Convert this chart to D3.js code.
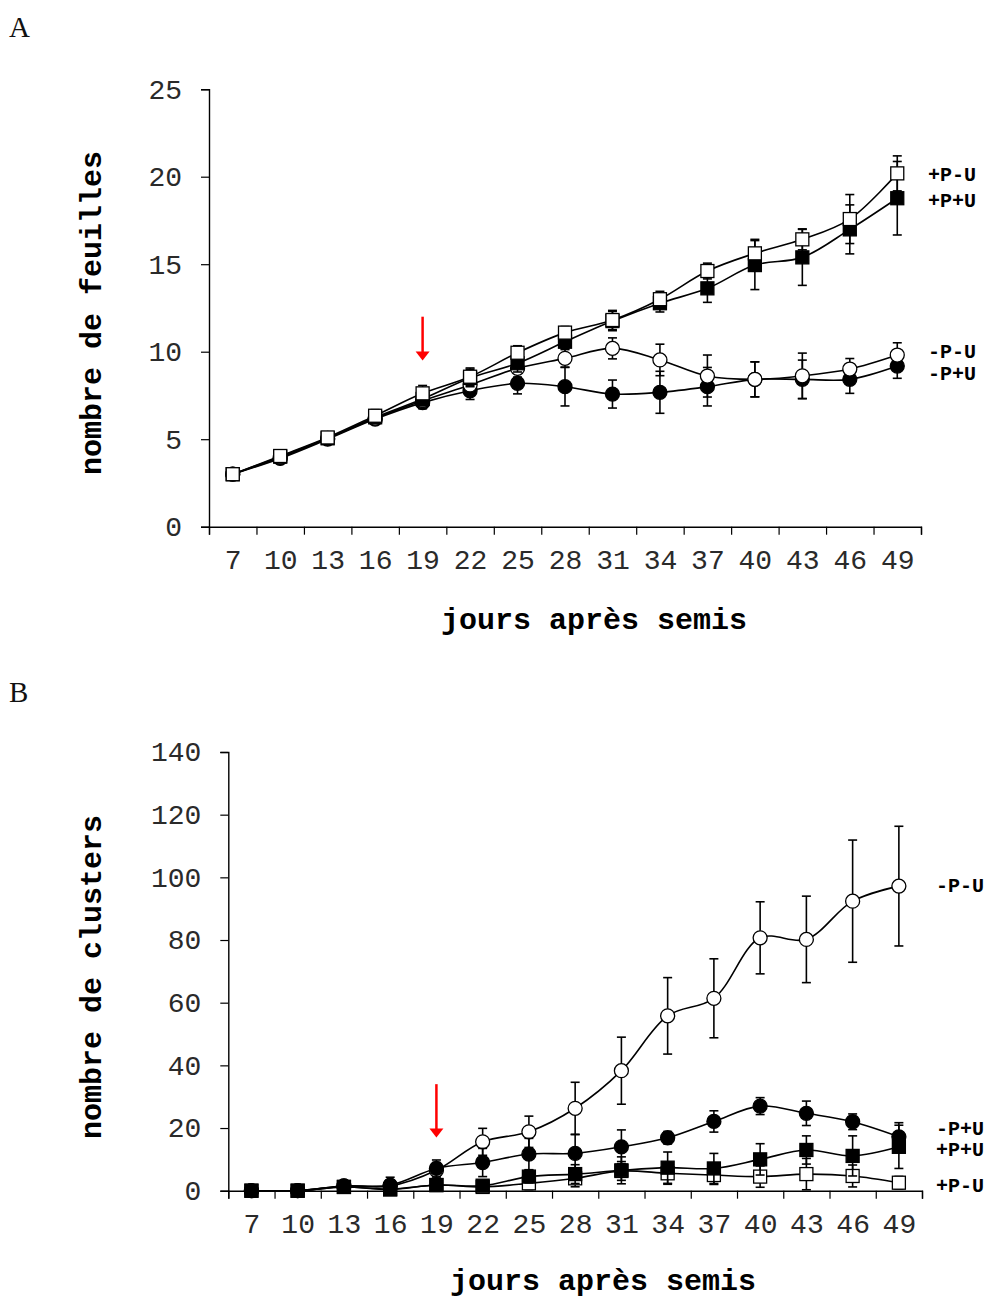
<!DOCTYPE html>
<html>
<head>
<meta charset="utf-8">
<script src="https://cdn.jsdelivr.net/npm/d3@7"></script>
<style>
  html, body { margin: 0; padding: 0; background: #fff; }
  svg { display: block; }
</style>
</head>
<body>
<svg id="chart" width="990" height="1300"></svg>
<script>
// ---------- DATA ----------
const days = [7, 10, 13, 16, 19, 22, 25, 28, 31, 34, 37, 40, 43, 46, 49];

// Panel A : nombre de feuilles
const A_yTicks = [0, 5, 10, 15, 20, 25];
const A_PmU_mean = [3, 4.04, 5.1, 6.34, 7.62, 8.57, 9.94, 11.09, 11.81, 13.0, 14.61, 15.62, 16.42, 17.58, 20.19];
const A_PmU_err  = [0.1, 0.15, 0.2, 0.35, 0.45, 0.5, 0.4, 0.35, 0.55, 0.45, 0.45, 0.8, 0.6, 1.4, 1.0];
const A_PpU_mean = [3, 4.0, 5.05, 6.25, 7.3, 8.5, 9.34, 10.57, 11.75, 12.77, 13.62, 14.95, 15.39, 16.99, 18.77];
const A_PpU_err  = [0.1, 0.15, 0.2, 0.3, 0.4, 0.5, 0.5, 0.4, 0.55, 0.5, 0.8, 1.4, 1.6, 1.4, 2.1];
const A_MmU_mean = [3, 3.95, 5.05, 6.2, 7.2, 8.1, 9.05, 9.62, 10.19, 9.53, 8.61, 8.42, 8.62, 9.01, 9.81];
const A_MmU_err  = [0.1, 0.15, 0.2, 0.3, 0.4, 0.45, 0.5, 0.5, 0.6, 0.9, 1.2, 1.0, 1.3, 0.6, 0.7];
const A_MpU_mean = [3, 3.9, 5.0, 6.15, 7.09, 7.77, 8.19, 8.0, 7.58, 7.68, 8.0, 8.42, 8.42, 8.42, 9.18];
const A_MpU_err  = [0.1, 0.15, 0.2, 0.3, 0.35, 0.5, 0.6, 1.1, 0.8, 1.2, 1.1, 1.0, 1.1, 0.8, 0.7];

// Panel B : nombre de clusters
const B_yTicks = [0, 20, 40, 60, 80, 100, 120, 140];
const B_MmU_mean = [0, 0, 1.5, 1.5, 6.5, 15.6, 18.8, 26.3, 38.3, 55.8, 61.4, 80.7, 80.2, 92.4, 97.2];
const B_MmU_err  = [0, 0, 1.5, 2, 2.5, 4.3, 5, 8.3, 10.7, 12.2, 12.6, 11.5, 13.8, 19.5, 19.1];
const B_MpU_mean = [0, 0, 1.5, 1.8, 7.1, 9.0, 11.7, 11.9, 14.0, 16.9, 22.1, 27.0, 24.7, 22.0, 17.2];
const B_MpU_err  = [0, 0, 1.5, 2.5, 2.7, 4.5, 5, 6, 5.4, 2, 3.4, 2.7, 3.9, 2.5, 4.5];
const B_PpU_mean = [0, 0, 1.2, 0.5, 1.8, 1.6, 4.5, 5.3, 6.5, 7.35, 7.1, 10.0, 13.0, 11.1, 14.0];
const B_PpU_err  = [0, 0, 1, 0.8, 1, 1.5, 2, 3, 4.3, 5, 4.8, 5, 4.5, 6.4, 6.9];
const B_PmU_mean = [0, 0, 1.2, 0.4, 1.8, 1.2, 2.35, 3.95, 6.3, 5.55, 5.0, 4.5, 5.3, 4.7, 2.55];
const B_PmU_err  = [0, 0, 1, 0.8, 1, 1.5, 2, 2.7, 3, 3.5, 3, 3.4, 5, 3.5, 2];

// treatment arrow (day, from value, to value)
const arrowDay = 19;
const A_arrow = [12, 9.5];
const B_arrow = [34, 17];

// ---------- DRAWING ----------
const svg = d3.select("#chart");
const MONO = "'Liberation Mono', 'Courier New', monospace";

function panel(cfg) {
  const g = svg.append("g");
  const step = days[1] - days[0];
  const x = d3.scaleLinear()
    .domain([days[0] - step / 2, days[days.length - 1] + step / 2])
    .range([cfg.x0, cfg.x1]);
  const y = d3.scaleLinear().domain([0, cfg.yMax]).range([cfg.yBottom, cfg.yTop]);

  // panel letter
  g.append("text").attr("x", 9).attr("y", cfg.letterY)
    .attr("font-family", "'Liberation Serif', 'Times New Roman', serif")
    .attr("font-size", 29).attr("fill", "#111").text(cfg.letter);

  // y axis
  const ya = g.append("g").attr("transform", `translate(${cfg.x0},0)`)
    .call(d3.axisLeft(y).tickValues(cfg.yTicks).tickSize(8).tickPadding(19).tickFormat(d3.format("d")));
  ya.select(".domain").attr("stroke", "#000").attr("stroke-width", 1.4);
  ya.selectAll(".tick line").attr("stroke", "#000").attr("stroke-width", 1.2);
  ya.selectAll(".tick text").attr("font-family", MONO).attr("font-size", 28)
    .attr("fill", "#2a2a2a").attr("dy", "0.32em");

  // x axis : ticks at boundaries, labels at centres
  const bounds = days.map(d => d - step / 2).concat([days[days.length - 1] + step / 2]);
  const xa = g.append("g").attr("transform", `translate(0,${cfg.yBottom})`)
    .call(d3.axisBottom(x).tickValues(bounds).tickSize(8).tickFormat(""));
  xa.select(".domain").attr("stroke", "#000").attr("stroke-width", 1.4);
  xa.selectAll(".tick line").attr("stroke", "#000").attr("stroke-width", 1.2);
  const xl = g.append("g").attr("transform", `translate(0,${cfg.yBottom})`)
    .call(d3.axisBottom(x).tickValues(days).tickSize(0).tickPadding(cfg.xLabelPad).tickFormat(d3.format("d")));
  xl.select(".domain").remove();
  xl.selectAll(".tick text").attr("font-family", MONO).attr("font-size", 28)
    .attr("fill", "#2a2a2a").attr("dy", "0.71em");

  // axis titles
  g.append("text").attr("x", cfg.xTitleX).attr("y", cfg.xTitleY)
    .attr("text-anchor", "middle").attr("font-family", MONO).attr("font-weight", "bold")
    .attr("font-size", 30).attr("fill", "#000").text("jours après semis");
  g.append("text")
    .attr("transform", `translate(101,${cfg.yTitleY}) rotate(-90)`)
    .attr("text-anchor", "middle").attr("font-family", MONO).attr("font-weight", "bold")
    .attr("font-size", 30).attr("fill", "#000").text(cfg.yTitle);

  const line = d3.line().x((d, i) => x(days[i])).y(d => y(d)).curve(d3.curveCatmullRom.alpha(0.5));

  // series in drawing order
  cfg.series.forEach(s => {
    const sg = g.append("g");
    sg.append("path").attr("d", line(s.mean)).attr("fill", "none")
      .attr("stroke", "#000").attr("stroke-width", 1.6);
    // error bars
    s.mean.forEach((m, i) => {
      const e = s.err[i];
      if (e <= 0) return;
      const cx = x(days[i]);
      const yt = y(m + e), yb = y(Math.max(0, m - e));
      sg.append("line").attr("x1", cx).attr("x2", cx).attr("y1", yt).attr("y2", yb)
        .attr("stroke", "#000").attr("stroke-width", 1.6);
      [yt, yb].forEach(yy => sg.append("line").attr("x1", cx - 4.5).attr("x2", cx + 4.5)
        .attr("y1", yy).attr("y2", yy).attr("stroke", "#000").attr("stroke-width", 1.6));
    });
    // markers
    s.mean.forEach((m, i) => {
      const cx = x(days[i]), cy = y(m);
      if (s.shape === "square") {
        sg.append("rect").attr("x", cx - 6.5).attr("y", cy - 6.5).attr("width", 13).attr("height", 13)
          .attr("fill", s.filled ? "#000" : "#fff").attr("stroke", "#000").attr("stroke-width", 1.3);
      } else {
        sg.append("circle").attr("cx", cx).attr("cy", cy).attr("r", 7)
          .attr("fill", s.filled ? "#000" : "#fff").attr("stroke", "#000").attr("stroke-width", 1.3);
      }
    });
  });

  // legend labels
  cfg.labels.forEach(l => {
    g.append("text").attr("x", cfg.labelX).attr("y", l.y).attr("dy", "0.35em")
      .attr("font-family", MONO).attr("font-weight", "bold").attr("font-size", 20)
      .attr("fill", "#000").text(l.text);
  });

  // red arrow
  const ax = x(arrowDay);
  const yA = y(cfg.arrow[0]), yT = y(cfg.arrow[1]);
  g.append("line").attr("x1", ax).attr("x2", ax).attr("y1", yA).attr("y2", yT - 8)
    .attr("stroke", "#ff0000").attr("stroke-width", 2.5);
  g.append("path").attr("d", `M${ax - 7},${yT - 9}L${ax + 7},${yT - 9}L${ax},${yT}Z`).attr("fill", "#ff0000");
}

panel({
  letter: "A", letterY: 37,
  x0: 209, x1: 921, yBottom: 526.7, yTop: 89.2, yMax: 25, yTicks: A_yTicks,
  xLabelPad: 22, xTitleX: 594, xTitleY: 629, yTitleY: 313, yTitle: "nombre de feuilles",
  series: [
    { mean: A_MpU_mean, err: A_MpU_err, shape: "circle", filled: true },
    { mean: A_MmU_mean, err: A_MmU_err, shape: "circle", filled: false },
    { mean: A_PpU_mean, err: A_PpU_err, shape: "square", filled: true },
    { mean: A_PmU_mean, err: A_PmU_err, shape: "square", filled: false }
  ],
  labelX: 928,
  labels: [
    { text: "+P-U", y: 174 }, { text: "+P+U", y: 200 },
    { text: "-P-U", y: 351 }, { text: "-P+U", y: 373 }
  ],
  arrow: A_arrow
});

panel({
  letter: "B", letterY: 702,
  x0: 228.3, x1: 922, yBottom: 1190.7, yTop: 752, yMax: 140, yTicks: B_yTicks,
  xLabelPad: 22, xTitleX: 603, xTitleY: 1290, yTitleY: 977, yTitle: "nombre de clusters",
  series: [
    { mean: B_MmU_mean, err: B_MmU_err, shape: "circle", filled: false },
    { mean: B_PmU_mean, err: B_PmU_err, shape: "square", filled: false },
    { mean: B_MpU_mean, err: B_MpU_err, shape: "circle", filled: true },
    { mean: B_PpU_mean, err: B_PpU_err, shape: "square", filled: true }
  ],
  labelX: 936,
  labels: [
    { text: "-P-U", y: 885 }, { text: "-P+U", y: 1128 },
    { text: "+P+U", y: 1149 }, { text: "+P-U", y: 1185 }
  ],
  arrow: B_arrow
});
</script>
</body>
</html>
